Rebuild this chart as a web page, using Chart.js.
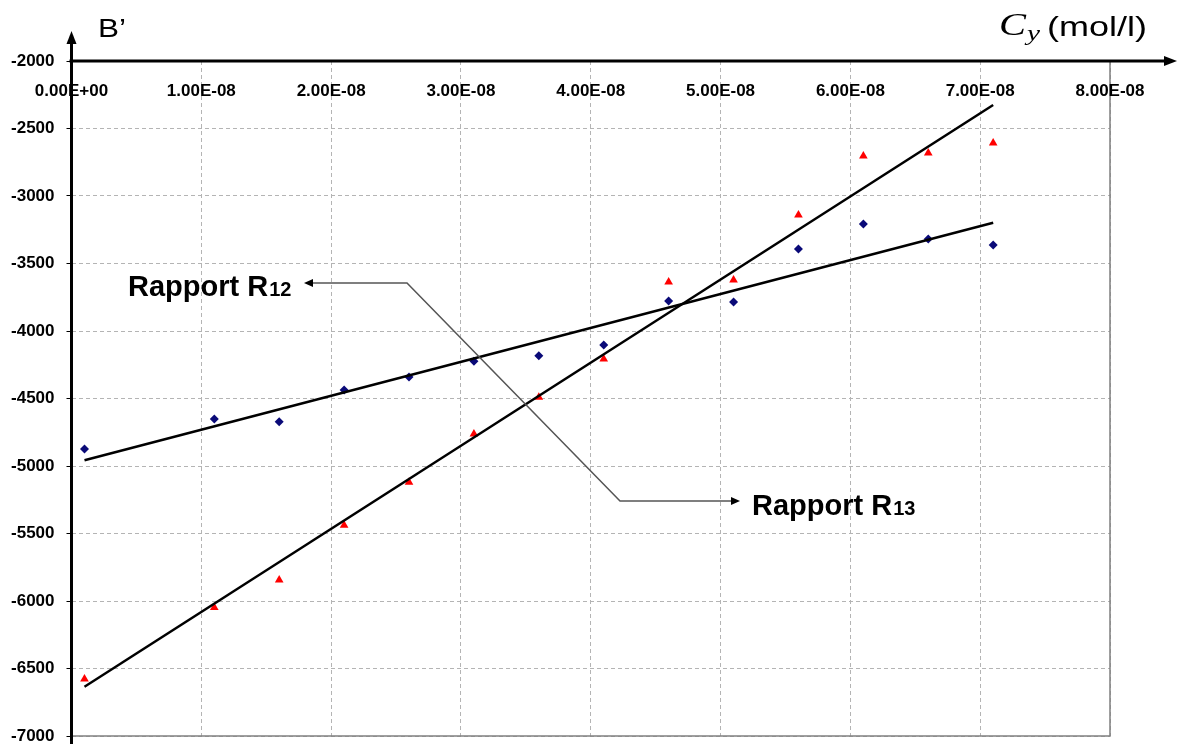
<!DOCTYPE html>
<html>
<head>
<meta charset="utf-8">
<script src="https://cdn.jsdelivr.net/npm/chart.js@4.4.0/dist/chart.umd.min.js"></script>
<style>
  html, body { margin: 0; padding: 0; background: #fff; }
  #wrap { width: 1179px; height: 744px; }
</style>
</head>
<body>
<div id="wrap"><canvas id="myChart" width="1179" height="744"></canvas></div>
<script>
// concentration Cy (mol/l)
const concentrations = [0.1e-8, 1.1e-8, 1.6e-8, 2.1e-8, 2.6e-8, 3.1e-8, 3.6e-8,
  4.1e-8, 4.6e-8, 5.1e-8, 5.6e-8, 6.1e-8, 6.6e-8, 7.1e-8];
// B' for each ratio
const rapportR12 = [-4874, -4652, -4672, -4437, -4341, -4224, -4183,
  -4104, -3778, -3785, -3393, -3207, -3319, -3363];
const rapportR13 = [-6578, -6049, -5844, -5439, -5121, -4763, -4491,
  -4207, -3637, -3622, -3141, -2704, -2681, -2607];

const xTickLabels = ["0.00E+00", "1.00E-08", "2.00E-08", "3.00E-08", "4.00E-08",
  "5.00E-08", "6.00E-08", "7.00E-08", "8.00E-08"];
const xMin = 0, xMax = 8e-8, xStep = 1e-8;
const yMin = -7000, yMax = -2000, yStep = 500;

const SANS = "'Liberation Sans', Arial, sans-serif";
const SERIF = "'Liberation Serif', 'Times New Roman', serif";

// least squares line between first and last x
function fitLine(xs, ys) {
  const n = xs.length;
  const mx = xs.reduce((a, b) => a + b, 0) / n;
  const my = ys.reduce((a, b) => a + b, 0) / n;
  let sxy = 0, sxx = 0;
  xs.forEach((x, i) => {
    sxy += (x - mx) * (ys[i] - my);
    sxx += (x - mx) * (x - mx);
  });
  const slope = sxy / sxx;
  const a = xs[0], b = xs[n - 1];
  return [{ x: a, y: my + slope * (a - mx) }, { x: b, y: my + slope * (b - mx) }];
}

const points = (ys) => concentrations.map((x, i) => ({ x: x, y: ys[i] }));

function arrowHead(ctx, x, y, dx, dy, len, half) {
  // tip at (x,y), pointing along (dx,dy)
  const px = -dy, py = dx;
  ctx.beginPath();
  ctx.moveTo(x, y);
  ctx.lineTo(x - dx * len + px * half, y - dy * len + py * half);
  ctx.lineTo(x - dx * len - px * half, y - dy * len - py * half);
  ctx.closePath();
  ctx.fill();
}

// text squeezed/stretched horizontally to a given width
function wideText(ctx, text, x, y, font, width) {
  ctx.font = font;
  const w = ctx.measureText(text).width;
  ctx.save();
  ctx.translate(x, y);
  ctx.scale(width / w, 1);
  ctx.fillText(text, 0, 0);
  ctx.restore();
}

function rapportLabel(ctx, x, y, sub) {
  ctx.font = "bold 29px " + SANS;
  ctx.textAlign = "left";
  ctx.textBaseline = "alphabetic";
  ctx.fillText("Rapport R", x, y);
  const w = ctx.measureText("Rapport R").width;
  ctx.font = "bold 20px " + SANS;
  ctx.fillText(sub, x + w + 1, y);
}

const decorPlugin = {
  id: "decor",
  afterDraw(chart) {
    const ctx = chart.ctx;
    const area = chart.chartArea;
    const xs = chart.scales.x;
    ctx.save();

    // plot border right / bottom
    ctx.strokeStyle = "#808080";
    ctx.lineWidth = 1.5;
    ctx.beginPath();
    ctx.moveTo(area.left, area.bottom);
    ctx.lineTo(area.right, area.bottom);
    ctx.lineTo(area.right, area.top);
    ctx.stroke();

    // x tick labels under the top axis
    ctx.fillStyle = "#000";
    ctx.font = "bold 17px " + SANS;
    ctx.textAlign = "center";
    ctx.textBaseline = "middle";
    xs.ticks.forEach((t, i) => {
      if (xTickLabels[i]) ctx.fillText(xTickLabels[i], xs.getPixelForValue(t.value), area.top + 30);
    });

    // axes with arrows
    ctx.strokeStyle = "#000";
    ctx.lineWidth = 3;
    ctx.beginPath();
    ctx.moveTo(area.left - 2, area.top);
    ctx.lineTo(1166, area.top);
    ctx.stroke();
    arrowHead(ctx, 1177, area.top, 1, 0, 13, 5);
    ctx.beginPath();
    ctx.moveTo(area.left, 744);
    ctx.lineTo(area.left, 42);
    ctx.stroke();
    arrowHead(ctx, area.left, 31, 0, -1, 13, 5);

    // axis titles
    ctx.textAlign = "left";
    ctx.textBaseline = "alphabetic";
    wideText(ctx, "B\u2019", 98, 37, "25px " + SANS, 28);
    wideText(ctx, "C", 999, 35, "italic 31px " + SERIF, 27);
    wideText(ctx, "y", 1027, 40, "italic 21px " + SERIF, 13);
    wideText(ctx, "(mol/l)", 1047, 36, "28px " + SANS, 100);

    // leader lines
    ctx.strokeStyle = "#555";
    ctx.fillStyle = "#000";
    ctx.lineWidth = 1.5;
    ctx.beginPath();
    ctx.moveTo(312, 283);
    ctx.lineTo(407, 283);
    ctx.lineTo(620, 501);
    ctx.lineTo(732, 501);
    ctx.stroke();
    arrowHead(ctx, 304, 283, -1, 0, 9, 4);
    arrowHead(ctx, 740, 501, 1, 0, 9, 4);

    ctx.fillStyle = "#000";
    rapportLabel(ctx, 128, 296, "12");
    rapportLabel(ctx, 752, 515, "13");
    ctx.restore();
  }
};

const config = {
  type: "scatter",
  data: {
    datasets: [
      {
        label: "Rapport R12",
        data: points(rapportR12),
        pointStyle: "rectRot",
        pointRadius: 4.5,
        backgroundColor: "#0a0a78",
        borderColor: "#0a0a78",
        borderWidth: 0,
        order: 2
      },
      {
        label: "Rapport R13",
        data: points(rapportR13),
        pointStyle: "triangle",
        pointRadius: 5,
        backgroundColor: "#ff0000",
        borderColor: "#ff0000",
        borderWidth: 0,
        order: 2
      },
      {
        type: "line",
        label: "fit R12",
        data: fitLine(concentrations, rapportR12),
        borderColor: "#000",
        borderWidth: 2.5,
        pointRadius: 0,
        fill: false,
        order: 1
      },
      {
        type: "line",
        label: "fit R13",
        data: fitLine(concentrations, rapportR13),
        borderColor: "#000",
        borderWidth: 2.5,
        pointRadius: 0,
        fill: false,
        order: 1
      }
    ]
  },
  plugins: [decorPlugin],
  options: {
    responsive: false,
    animation: false,
    layout: { padding: { left: 0, top: 61, right: 69, bottom: 8 } },
    plugins: {
      legend: { display: false },
      tooltip: { enabled: false }
    },
    scales: {
      x: {
        type: "linear",
        position: "bottom",
        min: xMin,
        max: xMax,
        ticks: { display: false, stepSize: xStep },
        grid: { color: "#b4b4b4", lineWidth: 1, drawTicks: false },
        border: { display: false, dash: [4, 3] },
        afterFit(scale) {
          scale.height = 0;
          scale.paddingLeft = scale.paddingRight = 0;
        }
      },
      y: {
        type: "linear",
        min: yMin,
        max: yMax,
        ticks: {
          stepSize: yStep,
          padding: 12,
          color: "#000",
          font: { family: SANS, size: 17, weight: "bold" },
          callback: (v) => String(v)
        },
        grid: {
          color: "#b4b4b4",
          lineWidth: 1,
          tickLength: 5,
          tickColor: "#000",
          tickWidth: 1,
          tickBorderDash: []
        },
        border: { display: false, dash: [4, 3] },
        afterFit(scale) {
          scale.width = 71.5;
          scale.paddingTop = scale.paddingBottom = 0;
        }
      }
    }
  }
};

new Chart(document.getElementById("myChart"), config);
</script>
</body>
</html>
